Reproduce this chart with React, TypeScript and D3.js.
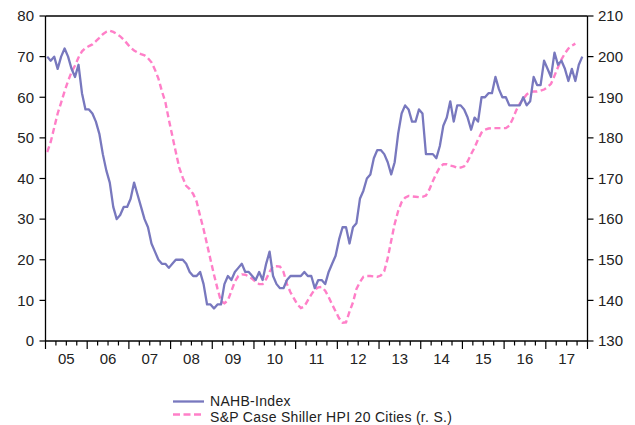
import React from "react";
import * as d3 from "d3";

// Monthly NAHB Housing Market Index, Jan 2005 - Nov 2017 (left axis)
const nahb: number[] = [
  70, 69, 70, 67, 70, 72, 70, 67, 65, 68, 61, 57,
  57, 56, 54, 51, 46, 42, 39, 33, 30, 31, 33, 33,
  35, 39, 36, 33, 30, 28, 24, 22, 20, 19, 19, 18,
  19, 20, 20, 20, 19, 17, 16, 16, 17, 14, 9, 9,
  8, 9, 9, 14, 16, 15, 17, 18, 19, 17, 17, 16,
  15, 17, 15, 19, 22, 16, 14, 13, 13, 15, 16, 16,
  16, 16, 17, 16, 16, 13, 15, 15, 14, 17, 19, 21,
  25, 28, 28, 24, 28, 29, 35, 37, 40, 41, 45, 47,
  47, 46, 44, 41, 44, 51, 56, 58, 57, 54, 54, 57,
  56, 46, 46, 46, 45, 48, 53, 55, 59, 54, 58, 58,
  57, 55, 52, 55, 54, 60, 60, 61, 61, 65, 62, 60,
  60, 58, 58, 58, 58, 60, 58, 59, 65, 63, 63, 69,
  67, 65, 71, 68, 69, 67, 64, 67, 64, 68, 70,
];

// Monthly S&P Case-Shiller 20-City index, Jan 2005 - Sep 2017 (right axis)
const caseShiller: number[] = [
  176.5, 179, 182.5, 186, 188.7, 191.5, 194, 196.2, 197.8, 199.8, 201.3, 202.1,
  202.6, 203, 203.8, 204.6, 205.5, 206.1, 206.4, 206.1, 205.6, 205, 204.2, 203.2,
  202.2, 201.5, 201, 200.6, 200.3, 199.6, 198.6, 196.8, 194.6, 191.5, 188.8, 184.5,
  180.5, 176.5, 172.7, 170.2, 168.2, 167.4, 166.2, 164.3, 160.8, 157.5, 153.8, 150,
  146.3, 142.9, 139.8, 139.3, 140, 142.3, 144.6, 146, 146.4, 146.3, 145.9, 145.3,
  144.6, 144, 144, 145.2, 147, 148.4, 148.4, 148.3, 147, 144, 142, 140.5,
  139, 138.1, 138.5, 140, 141.4, 142.7, 143.2, 143.3, 142.4, 140.8, 139, 137.3,
  135.6, 134.5, 134.6, 137.2, 139.5, 142.8, 144.5, 145.8, 146, 146, 145.9, 145.8,
  146.1, 147.2, 150.4, 154.7, 158.8, 162, 164.2, 165.3, 165.7, 165.6, 165.5, 165.4,
  165.5, 165.8, 167.3, 169.4, 171.2, 172.8, 173.5, 173.5, 173.2, 173, 172.6, 172.7,
  173, 174.2, 176, 177.6, 179.6, 181.3, 182, 182.3, 182.4, 182.4, 182.4, 182.4,
  182.4, 183, 184.7, 186.8, 188.4, 189.6, 190.7, 191.3, 191.4, 191.4, 191.6, 191.9,
  192.5, 193.3, 195.3, 197.4, 199.3, 200.8, 202, 202.7, 203.2,
];

const yearLabels: string[] = ["05", "06", "07", "08", "09", "10", "11", "12", "13", "14", "15", "16", "17"];
const leftTicks: number[] = [0, 10, 20, 30, 40, 50, 60, 70, 80];
const rightTicks: number[] = [130, 140, 150, 160, 170, 180, 190, 200, 210];
const legendLabels: string[] = ["NAHB-Index", "S&P Case Shiller HPI 20 Cities (r. S.)"];

const BLUE = "#7878be";
const PINK = "#ff7fc8";
const FONT = "'Liberation Sans', Arial, sans-serif";

export default function App() {
  const W = 635, H = 425;
  const left = 45.5, right = 587.5, top = 16, bottom = 341;
  const nMonths = yearLabels.length * 12;
  const x = d3.scaleLinear().domain([0, nMonths]).range([left, right]);
  const yL = d3.scaleLinear().domain([0, 80]).range([bottom, top]);
  const yR = d3.scaleLinear().domain([130, 210]).range([bottom, top]);

  const lineL = d3.line<number>().x((_, i) => x(i + 0.5)).y((d) => yL(d));
  const lineR = d3.line<number>().x((_, i) => x(i + 0.5)).y((d) => yR(d));

  const quarters = d3.range(0, nMonths + 1, 3);

  return (
    <div style={{ position: "absolute", left: 0, top: 0 }}>
      <svg width={W} height={H} style={{ display: "block", background: "#fff" }} fontFamily={FONT}>
        {/* frame */}
        <line x1={left} x2={right} y1={top} y2={top} stroke="#000" strokeWidth={1.3} />
        <line x1={left} x2={right} y1={bottom} y2={bottom} stroke="#000" strokeWidth={1.3} />
        <line x1={left} x2={left} y1={top} y2={bottom} stroke="#000" strokeWidth={1.3} />
        <line x1={right} x2={right} y1={top} y2={bottom} stroke="#000" strokeWidth={1.3} />

        {/* left axis */}
        {leftTicks.map((t) => (
          <g key={"l" + t}>
            <line x1={left - 6} x2={left} y1={yL(t)} y2={yL(t)} stroke="#000" strokeWidth={1.2} />
            <text x={34} y={yL(t)} dy="0.35em" textAnchor="end" fontSize={15} fill="#222">{t}</text>
          </g>
        ))}

        {/* right axis */}
        {rightTicks.map((t) => (
          <g key={"r" + t}>
            <line x1={right} x2={right + 6} y1={yR(t)} y2={yR(t)} stroke="#000" strokeWidth={1.2} />
            <text x={598} y={yR(t)} dy="0.35em" textAnchor="start" fontSize={15} fill="#222">{t}</text>
          </g>
        ))}

        {/* x axis ticks */}
        {quarters.map((q) => (
          <line key={"q" + q} x1={x(q)} x2={x(q)} y1={bottom} y2={bottom + (q % 12 === 0 ? 8 : 4.5)} stroke="#000" strokeWidth={1.2} />
        ))}
        {yearLabels.map((lab, i) => (
          <text key={lab} x={x(i * 12 + 6)} y={364} textAnchor="middle" fontSize={15} fill="#222">{lab}</text>
        ))}

        {/* series */}
        <path d={lineR(caseShiller) || ""} fill="none" stroke={PINK} strokeWidth={2.4} strokeDasharray="6,3.5" />
        <path d={lineL(nahb) || ""} fill="none" stroke={BLUE} strokeWidth={2.3} strokeLinejoin="round" />

        {/* legend */}
        <line x1={173} x2={204} y1={401.5} y2={401.5} stroke={BLUE} strokeWidth={2.3} />
        <text x={210} y={405.5} fontSize={14} letterSpacing={0.3} fill="#222">{legendLabels[0]}</text>
        <line x1={173} x2={204} y1={414.5} y2={414.5} stroke={PINK} strokeWidth={2.4} strokeDasharray="7,3.5" />
        <text x={210} y={421.5} fontSize={14} letterSpacing={0.3} fill="#222">{legendLabels[1]}</text>
      </svg>
    </div>
  );
}
